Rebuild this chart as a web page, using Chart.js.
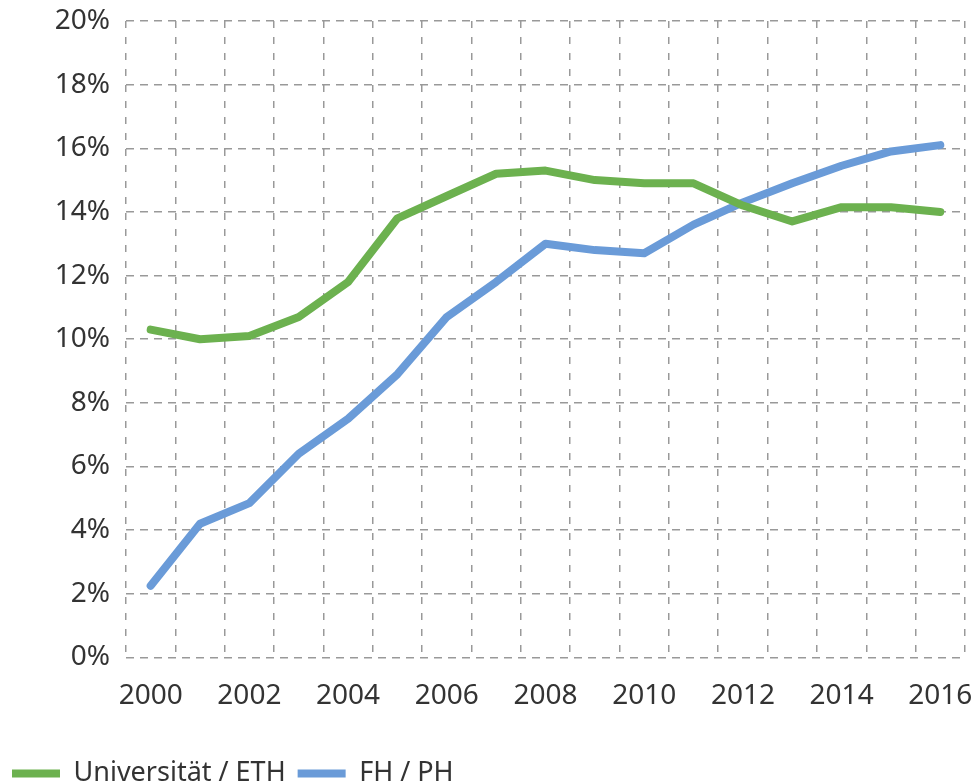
<!DOCTYPE html>
<html>
<head>
<meta charset="utf-8">
<script src="https://cdn.jsdelivr.net/npm/chart.js@4"></script>
<style>
    html, body {margin: 0; padding: 0; background: #fff;}
    #wrap {width: 976px; height: 784px;}
</style>
</head>
<body>
<div id="wrap"><canvas id="lineChart"></canvas></div>
<script>
    const years = ['2000', '2001', '2002', '2003', '2004', '2005', '2006', '2007', '2008',
        '2009', '2010', '2011', '2012', '2013', '2014', '2015', '2016'];
    const uniEth = [10.3, 10.0, 10.1, 10.7, 11.8, 13.8, 14.5, 15.2, 15.3,
        15.0, 14.9, 14.9, 14.2, 13.7, 14.15, 14.15, 14.0];
    const fhPh = [2.25, 4.2, 4.85, 6.4, 7.5, 8.9, 10.7, 11.8, 13.0,
        12.8, 12.7, 13.6, 14.3, 14.9, 15.45, 15.9, 16.1];
    const seriesNames = ['Universität / ETH', 'FH / PH'];

    const font = {family: "'Noto Sans', sans-serif", size: 28};

    const ctx = document.getElementById('lineChart').getContext('2d');

    const chart = new Chart(ctx, {
        type: 'line',
        data: {
            labels: years,
            datasets: [{
                label: seriesNames[0],
                data: uniEth,
                borderColor: '#6cb14f',
                backgroundColor: '#6cb14f',
                borderWidth: 8,
                borderCapStyle: 'round',
                borderJoinStyle: 'round',
                pointRadius: 0,
                tension: 0
            }, {
                label: seriesNames[1],
                data: fhPh,
                borderColor: '#6a9bd8',
                backgroundColor: '#6a9bd8',
                borderWidth: 8,
                borderCapStyle: 'round',
                borderJoinStyle: 'round',
                pointRadius: 0,
                tension: 0
            }]
        },
        options: {
            responsive: true,
            maintainAspectRatio: false,
            animation: false,
            layout: {
                padding: {left: 0, right: 11, top: 21, bottom: -13}
            },
            scales: {
                x: {
                    offset: true,
                    afterFit: function (scale) {
                        // labels may hang over the edge, like in the original
                        scale.paddingLeft = 0;
                        scale.paddingRight = 0;
                        scale.height += 13;
                    },
                    grid: {
                        offset: true,
                        color: '#999',
                        lineWidth: 1.5,
                        drawTicks: false
                    },
                    border: {display: false, dash: [7, 9]},
                    ticks: {
                        autoSkip: false,
                        maxRotation: 0,
                        padding: 22,
                        color: '#333',
                        font: font,
                        callback: function (value, index) {
                            return index % 2 === 0 ? this.getLabelForValue(value) : '';
                        }
                    }
                },
                y: {
                    min: 0,
                    max: 20,
                    afterFit: function (scale) {
                        scale.width = 126;
                        scale.paddingTop = 0;
                        scale.paddingBottom = 0;
                    },
                    grid: {
                        color: '#999',
                        lineWidth: 1.5,
                        drawTicks: false
                    },
                    border: {display: false, dash: [8, 6]},
                    ticks: {
                        stepSize: 2,
                        padding: 16,
                        color: '#333',
                        font: font,
                        callback: value => value + '%'
                    }
                }
            },
            plugins: {
                legend: {
                    position: 'bottom',
                    align: 'start',
                    labels: {
                        usePointStyle: true,
                        pointStyle: 'line',
                        pointStyleWidth: 48,
                        boxHeight: 8,
                        padding: 12,
                        color: '#333',
                        font: {family: "'Noto Sans', sans-serif", size: 27}
                    }
                },
                tooltip: {enabled: false}
            }
        }
    });
</script>
</body>
</html>
